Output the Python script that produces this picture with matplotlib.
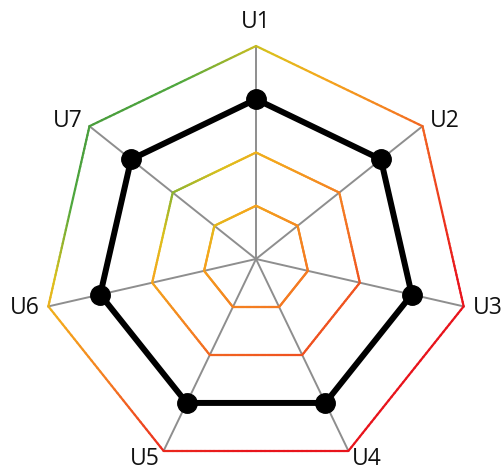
import numpy as np
import matplotlib.pyplot as plt
from matplotlib.collections import LineCollection
from matplotlib.colors import LinearSegmentedColormap

labels = ['U1', 'U2', 'U3', 'U4', 'U5', 'U6', 'U7']
values = [3, 3, 3, 3, 3, 3, 3]
levels = [1, 2, 3, 4]
rmax = 4
# how far each axis pushes the grid colour towards red (+) or green (-)
shift = [-0.23, 0.15, 0.38, 0.40, 0.30, -0.12, -0.65]

n = len(labels)
ang = np.pi / 2 - 2 * np.pi * np.arange(n) / n
dx = np.cos(ang)
dy = np.sin(ang)

cmap = LinearSegmentedColormap.from_list(
    'grid', [(0, '#4a9e3c'), (0.18, '#4fa83e'), (0.4, '#dcc01c'),
             (0.52, '#f4a81c'), (0.7, '#f47a22'), (0.95, '#e8141c'),
             (1, '#e8141c')])

px = 213 / rmax  # pixels per level
fig = plt.figure(figsize=(5.02, 4.71), dpi=100)
ax = fig.add_axes([0, 0, 1, 1])
ax.set_xlim(-256 / px, 246 / px)
ax.set_ylim(-212 / px, 259 / px)
ax.set_aspect('equal')
ax.axis('off')

# spokes
for i in range(n):
    ax.plot([0, rmax * dx[i]], [0, rmax * dy[i]], color='#8e8e8e', lw=1.4, zorder=1)

# coloured grid rings
t = np.linspace(0, 1, 41)
for r in levels:
    segs = []
    cols = []
    for i in range(n):
        j = (i + 1) % n
        x = r * (dx[i] * (1 - t) + dx[j] * t)
        y = r * (dy[i] * (1 - t) + dy[j] * t)
        v0 = 0.6 + r / rmax * shift[i]
        v1 = 0.6 + r / rmax * shift[j]
        v = v0 * (1 - t) + v1 * t
        pts = np.column_stack([x, y])
        segs += [pts[k:k + 2] for k in range(len(t) - 1)]
        cols += list(cmap(np.clip((v[:-1] + v[1:]) / 2, 0, 1)))
    ax.add_collection(LineCollection(segs, colors=cols, linewidths=1.6,
                                     capstyle='round', zorder=2))

# data
vals = np.array(values + values[:1], dtype=float)
xd = vals * np.append(dx, dx[0])
yd = vals * np.append(dy, dy[0])
ax.plot(xd, yd, color='black', lw=4.3, zorder=3, solid_joinstyle='miter')
ax.plot(xd[:-1], yd[:-1], 'o', color='black', ms=14, zorder=4)

# axis labels
for i in range(n):
    if i == 0:
        off = (0, 8.5)
        ha, va = 'center', 'bottom'
    else:
        off = (6.5 * dx[i], 6.5 * dy[i])
        ha = 'left' if dx[i] > 0 else 'right'
        va = 'center'
    ax.annotate(labels[i], (rmax * dx[i], rmax * dy[i]), xytext=off,
                textcoords='offset points', ha=ha, va=va,
                fontsize=16.5, family='Open Sans', color='#111111')

fig.savefig('out.png', dpi=100)
